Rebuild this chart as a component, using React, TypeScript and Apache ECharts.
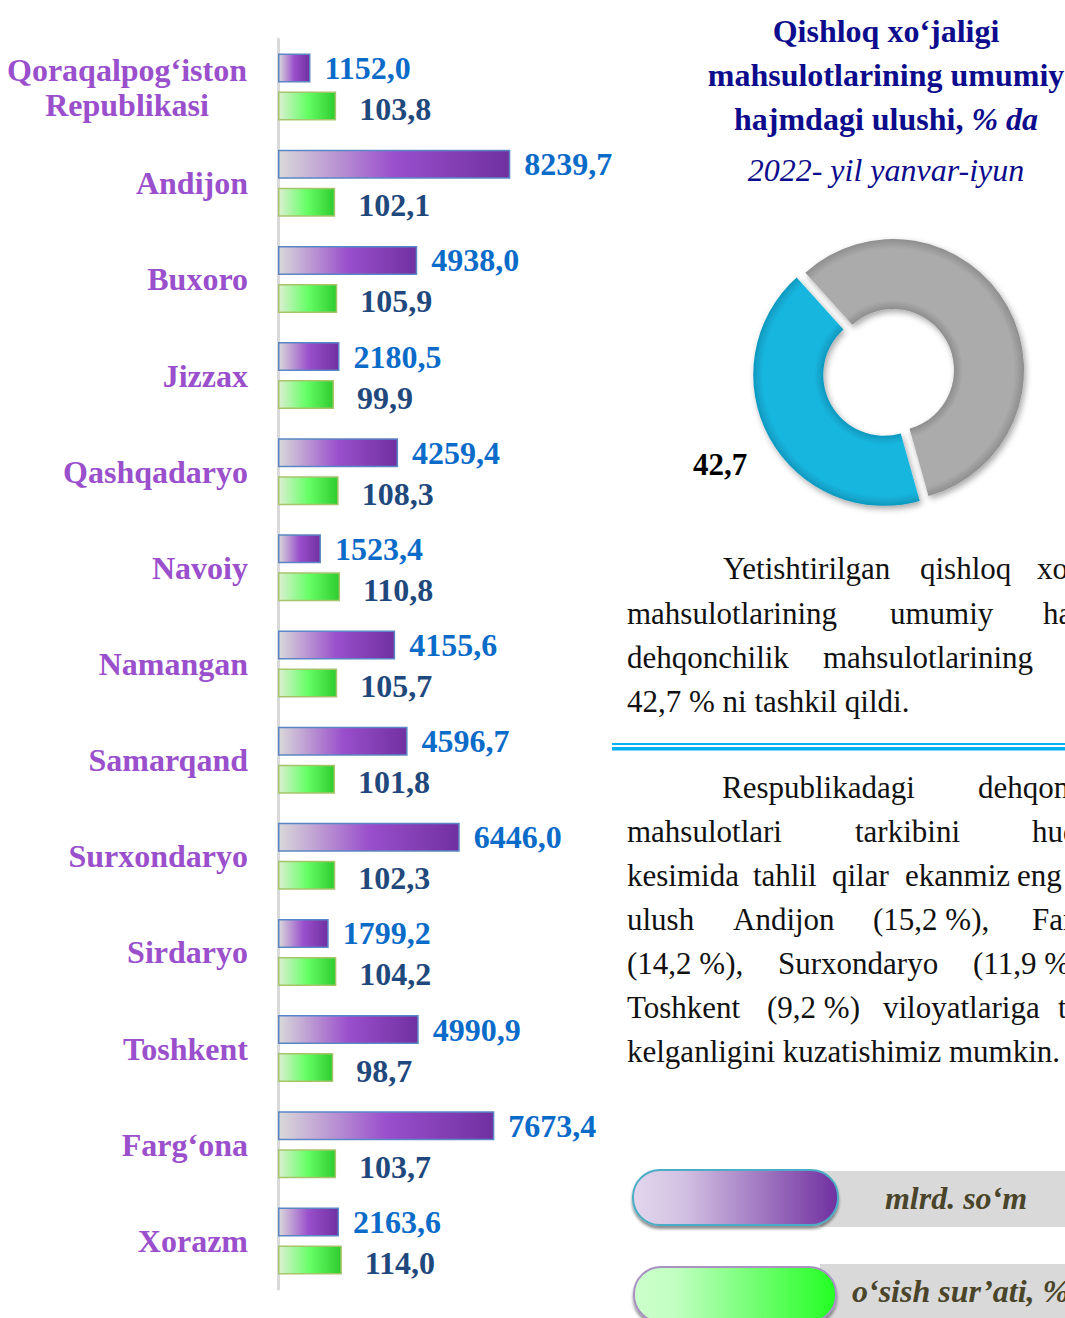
import React, { useEffect, useRef } from "react";
import * as echarts from "echarts";

// Regions (top to bottom)
const categories = [
  "Qoraqalpog‘iston\nRepublikasi",
  "Andijon",
  "Buxoro",
  "Jizzax",
  "Qashqadaryo",
  "Navoiy",
  "Namangan",
  "Samarqand",
  "Surxondaryo",
  "Sirdaryo",
  "Toshkent",
  "Farg‘ona",
  "Xorazm",
];

// Dehqonchilik mahsulotlari hajmi, mlrd. so‘m
const volume = [1152.0, 8239.7, 4938.0, 2180.5, 4259.4, 1523.4, 4155.6, 4596.7, 6446.0, 1799.2, 4990.9, 7673.4, 2163.6];

// O‘sish sur’ati, %
const growth = [103.8, 102.1, 105.9, 99.9, 108.3, 110.8, 105.7, 101.8, 102.3, 104.2, 98.7, 103.7, 114.0];

// Share of crop farming in total agricultural output, %
const cropShare = 42.7;
const otherShare = 57.3;

const legendNames = ["mlrd. so‘m", "o‘sish sur’ati, %"];

const SERIF = '"Liberation Serif", "Times New Roman", serif';
const fmt = (v: number) => v.toFixed(1).replace(".", ",");

// Body text of the right column, word by word (justified lines running past the page edge)
const para1 = [
  { y: 568, words: [[723, "Yetishtirilgan"], [920, "qishloq"], [1037, "xo‘jaligi"]] },
  { y: 613, words: [[627, "mahsulotlarining"], [890, "umumiy"], [1043, "hajmida"]] },
  { y: 657, words: [[627, "dehqonchilik"], [823, "mahsulotlarining"]] },
  { y: 701, words: [[627, "42,7 % ni tashkil qildi."]] },
];
const para2 = [
  { y: 787, words: [[722, "Respublikadagi"], [978, "dehqonchilik"]] },
  { y: 831, words: [[627, "mahsulotlari"], [855, "tarkibini"], [1032, "hududlar"]] },
  { y: 875, words: [[627, "kesimida"], [753, "tahlil"], [832, "qilar"], [905, "ekanmiz"], [1017, "eng"]] },
  { y: 919, words: [[627, "ulush"], [733, "Andijon"], [873, "(15,2 %),"], [1032, "Farg‘ona"]] },
  { y: 963, words: [[627, "(14,2 %),"], [778, "Surxondaryo"], [973, "(11,9 %)"]] },
  { y: 1007, words: [[627, "Toshkent"], [767, "(9,2 %)"], [883, "viloyatlariga"], [1058, "to‘g‘ri"]] },
  { y: 1051, words: [[627, "kelganligini kuzatishimiz mumkin."]] },
];

function bodyText(lines: { y: number; words: (string | number)[][] }[]) {
  const out: any[] = [];
  lines.forEach((ln) =>
    ln.words.forEach(([x, w]) =>
      out.push({
        type: "text",
        x: x as number,
        y: ln.y,
        style: {
          text: w as string,
          fontFamily: SERIF,
          fontSize: 31,
          fill: "#111111",
          align: "left",
          verticalAlign: "middle",
        },
      })
    )
  );
  return out;
}

export default function App() {
  const ref = useRef<HTMLDivElement>(null);

  useEffect(() => {
    if (!ref.current) return;
    const chart = echarts.init(ref.current, null, { renderer: "svg" });

    const purpleFill = new echarts.graphic.LinearGradient(0, 0, 1, 0, [
      { offset: 0, color: "#D9D9D9" },
      { offset: 0.5, color: "#9A4FCC" },
      { offset: 1, color: "#7030A0" },
    ]);
    const greenFill = new echarts.graphic.LinearGradient(0, 0, 1, 0, [
      { offset: 0, color: "#DCEFD2" },
      { offset: 0.5, color: "#66FF66" },
      { offset: 1, color: "#2ECC2E" },
    ]);

    // Donut geometry and bevel-like ring shading
    const pieCenter = [893, 370];
    const rIn = 61;
    const rOut = 131;
    const gR = 141;
    const ringShade = (edge: string, mid: string) =>
      new echarts.graphic.RadialGradient(
        pieCenter[0],
        pieCenter[1],
        gR,
        [
          { offset: rIn / gR, color: edge },
          { offset: (rIn + 9) / gR, color: mid },
          { offset: (rOut - 10) / gR, color: mid },
          { offset: rOut / gR, color: edge },
          { offset: 1, color: edge },
        ],
        true
      );

    const titleStyle = {
      fontFamily: SERIF,
      fontSize: 32,
      fontWeight: "bold",
      fill: "#0C0C8C",
      align: "center",
      verticalAlign: "middle",
    };

    const option: any = {
      animation: false,
      backgroundColor: "#ffffff",
      grid: { left: 278, top: 39, width: 320, height: 1250, containLabel: false },
      xAxis: [
        { type: "value", min: 0, max: 11350, show: false },
        { type: "value", min: 0, max: 571.4, show: false },
      ],
      yAxis: {
        type: "category",
        inverse: true,
        data: categories,
        offset: 2,
        axisLine: { show: true, lineStyle: { color: "#D9D9D9", width: 3 } },
        axisTick: { show: false },
        splitLine: { show: false },
        axisLabel: {
          margin: 28,
          fontFamily: SERIF,
          fontSize: 32,
          fontWeight: "bold",
          color: "#9A4FCC",
          lineHeight: 35,
          formatter: (v: string) =>
            v.includes("\n")
              ? v
                  .split("\n")
                  .map((s) => `{c|${s}}`)
                  .join("\n")
              : v,
          rich: {
            c: {
              width: 242,
              align: "center",
              fontFamily: SERIF,
              fontSize: 32,
              fontWeight: "bold",
              color: "#9A4FCC",
              lineHeight: 35,
            },
          },
        },
      },
      series: [
        {
          name: legendNames[0],
          type: "bar",
          xAxisIndex: 0,
          data: volume,
          barWidth: 29,
          barGap: "31%",
          itemStyle: { color: purpleFill, borderColor: "#5B86C5", borderWidth: 1.5 },
          label: {
            show: true,
            position: "right",
            distance: 14,
            formatter: (p: any) => fmt(p.value),
            fontFamily: SERIF,
            fontSize: 32,
            fontWeight: "bold",
            color: "#0B6BC9",
          },
        },
        {
          name: legendNames[1],
          type: "bar",
          xAxisIndex: 1,
          data: growth,
          barWidth: 29,
          barGap: "31%",
          itemStyle: { color: greenFill, borderColor: "#A6C46A", borderWidth: 1.5 },
          label: {
            show: true,
            position: "right",
            distance: 23,
            offset: [0, 3],
            formatter: (p: any) => fmt(p.value),
            fontFamily: SERIF,
            fontSize: 32,
            fontWeight: "bold",
            color: "#1F487C",
          },
        },
        {
          type: "pie",
          center: pieCenter,
          radius: [rIn, rOut],
          startAngle: 132,
          clockwise: true,
          selectedMode: "single",
          selectedOffset: 10,
          silent: true,
          label: { show: false },
          labelLine: { show: false },
          itemStyle: {
            shadowBlur: 6,
            shadowOffsetX: 2,
            shadowOffsetY: 3,
            shadowColor: "rgba(0,0,0,0.35)",
          },
          data: [
            {
              value: otherShare,
              name: "boshqa",
              itemStyle: { color: ringShade("#8E8E8E", "#ABABAB") },
            },
            {
              value: cropShare,
              name: "dehqonchilik",
              selected: true,
              itemStyle: { color: ringShade("#0F98BF", "#19B6DE") },
            },
          ],
        },
      ],
      graphic: [
        // Share value next to the blue slice
        {
          type: "text",
          x: 720,
          y: 464,
          style: {
            text: fmt(cropShare),
            fontFamily: SERIF,
            fontSize: 31,
            fontWeight: "bold",
            fill: "#000000",
            align: "center",
            verticalAlign: "middle",
          },
        },
        // Title
        { type: "text", x: 886, y: 31, style: { ...titleStyle, text: "Qishloq xo‘jaligi" } },
        { type: "text", x: 886, y: 75, style: { ...titleStyle, text: "mahsulotlarining umumiy" } },
        {
          type: "text",
          x: 886,
          y: 119,
          style: {
            ...titleStyle,
            text: "{b|hajmdagi ulushi, }{i|% da}",
            rich: {
              b: { fontFamily: SERIF, fontSize: 32, fontWeight: "bold", color: "#0C0C8C" },
              i: { fontFamily: SERIF, fontSize: 32, fontWeight: "bold", fontStyle: "italic", color: "#0C0C8C" },
            },
          },
        },
        {
          type: "text",
          x: 886,
          y: 170,
          style: {
            text: "2022- yil yanvar-iyun",
            fontFamily: SERIF,
            fontSize: 32,
            fontStyle: "italic",
            fill: "#0C0C8C",
            align: "center",
            verticalAlign: "middle",
          },
        },
        ...bodyText(para1),
        // Double rule between the paragraphs
        { type: "rect", shape: { x: 612, y: 743, width: 460, height: 2 }, style: { fill: "#00B0F0" } },
        { type: "rect", shape: { x: 612, y: 747, width: 460, height: 3.5 }, style: { fill: "#00B0F0" } },
        ...bodyText(para2),
        // Legend
        { type: "rect", shape: { x: 820, y: 1171, width: 260, height: 56 }, style: { fill: "#D9D9D9" } },
        {
          type: "rect",
          shape: { x: 633, y: 1170, width: 205, height: 55, r: 27 },
          style: {
            fill: new echarts.graphic.LinearGradient(0, 0, 1, 0, [
              { offset: 0, color: "#E2D6EC" },
              { offset: 0.25, color: "#D2C0E2" },
              { offset: 1, color: "#7030A0" },
            ]),
            stroke: "#4BACC6",
            lineWidth: 2,
            shadowBlur: 3,
            shadowOffsetY: 3,
            shadowColor: "rgba(0,0,0,0.45)",
          },
        },
        {
          type: "text",
          x: 956,
          y: 1198,
          style: {
            text: legendNames[0],
            fontFamily: SERIF,
            fontSize: 32,
            fontWeight: "bold",
            fontStyle: "italic",
            fill: "#4A452A",
            align: "center",
            verticalAlign: "middle",
          },
        },
        { type: "rect", shape: { x: 820, y: 1264, width: 260, height: 60 }, style: { fill: "#D9D9D9" } },
        {
          type: "rect",
          shape: { x: 634, y: 1267, width: 202, height: 55, r: 27 },
          style: {
            fill: new echarts.graphic.LinearGradient(0, 0, 1, 0, [
              { offset: 0, color: "#CCFFCC" },
              { offset: 0.2, color: "#C2FFC2" },
              { offset: 1, color: "#22FF22" },
            ]),
            stroke: "#A991C4",
            lineWidth: 2,
            shadowBlur: 3,
            shadowOffsetY: 3,
            shadowColor: "rgba(0,0,0,0.45)",
          },
        },
        {
          type: "text",
          x: 852,
          y: 1291,
          style: {
            text: legendNames[1],
            fontFamily: SERIF,
            fontSize: 32,
            fontWeight: "bold",
            fontStyle: "italic",
            fill: "#4A452A",
            align: "left",
            verticalAlign: "middle",
          },
        },
      ],
    };

    chart.setOption(option);
    return () => chart.dispose();
  }, []);

  return (
    <div
      ref={ref}
      style={{ position: "absolute", left: 0, top: 0, width: 1065, height: 1318, overflow: "hidden" }}
    />
  );
}
